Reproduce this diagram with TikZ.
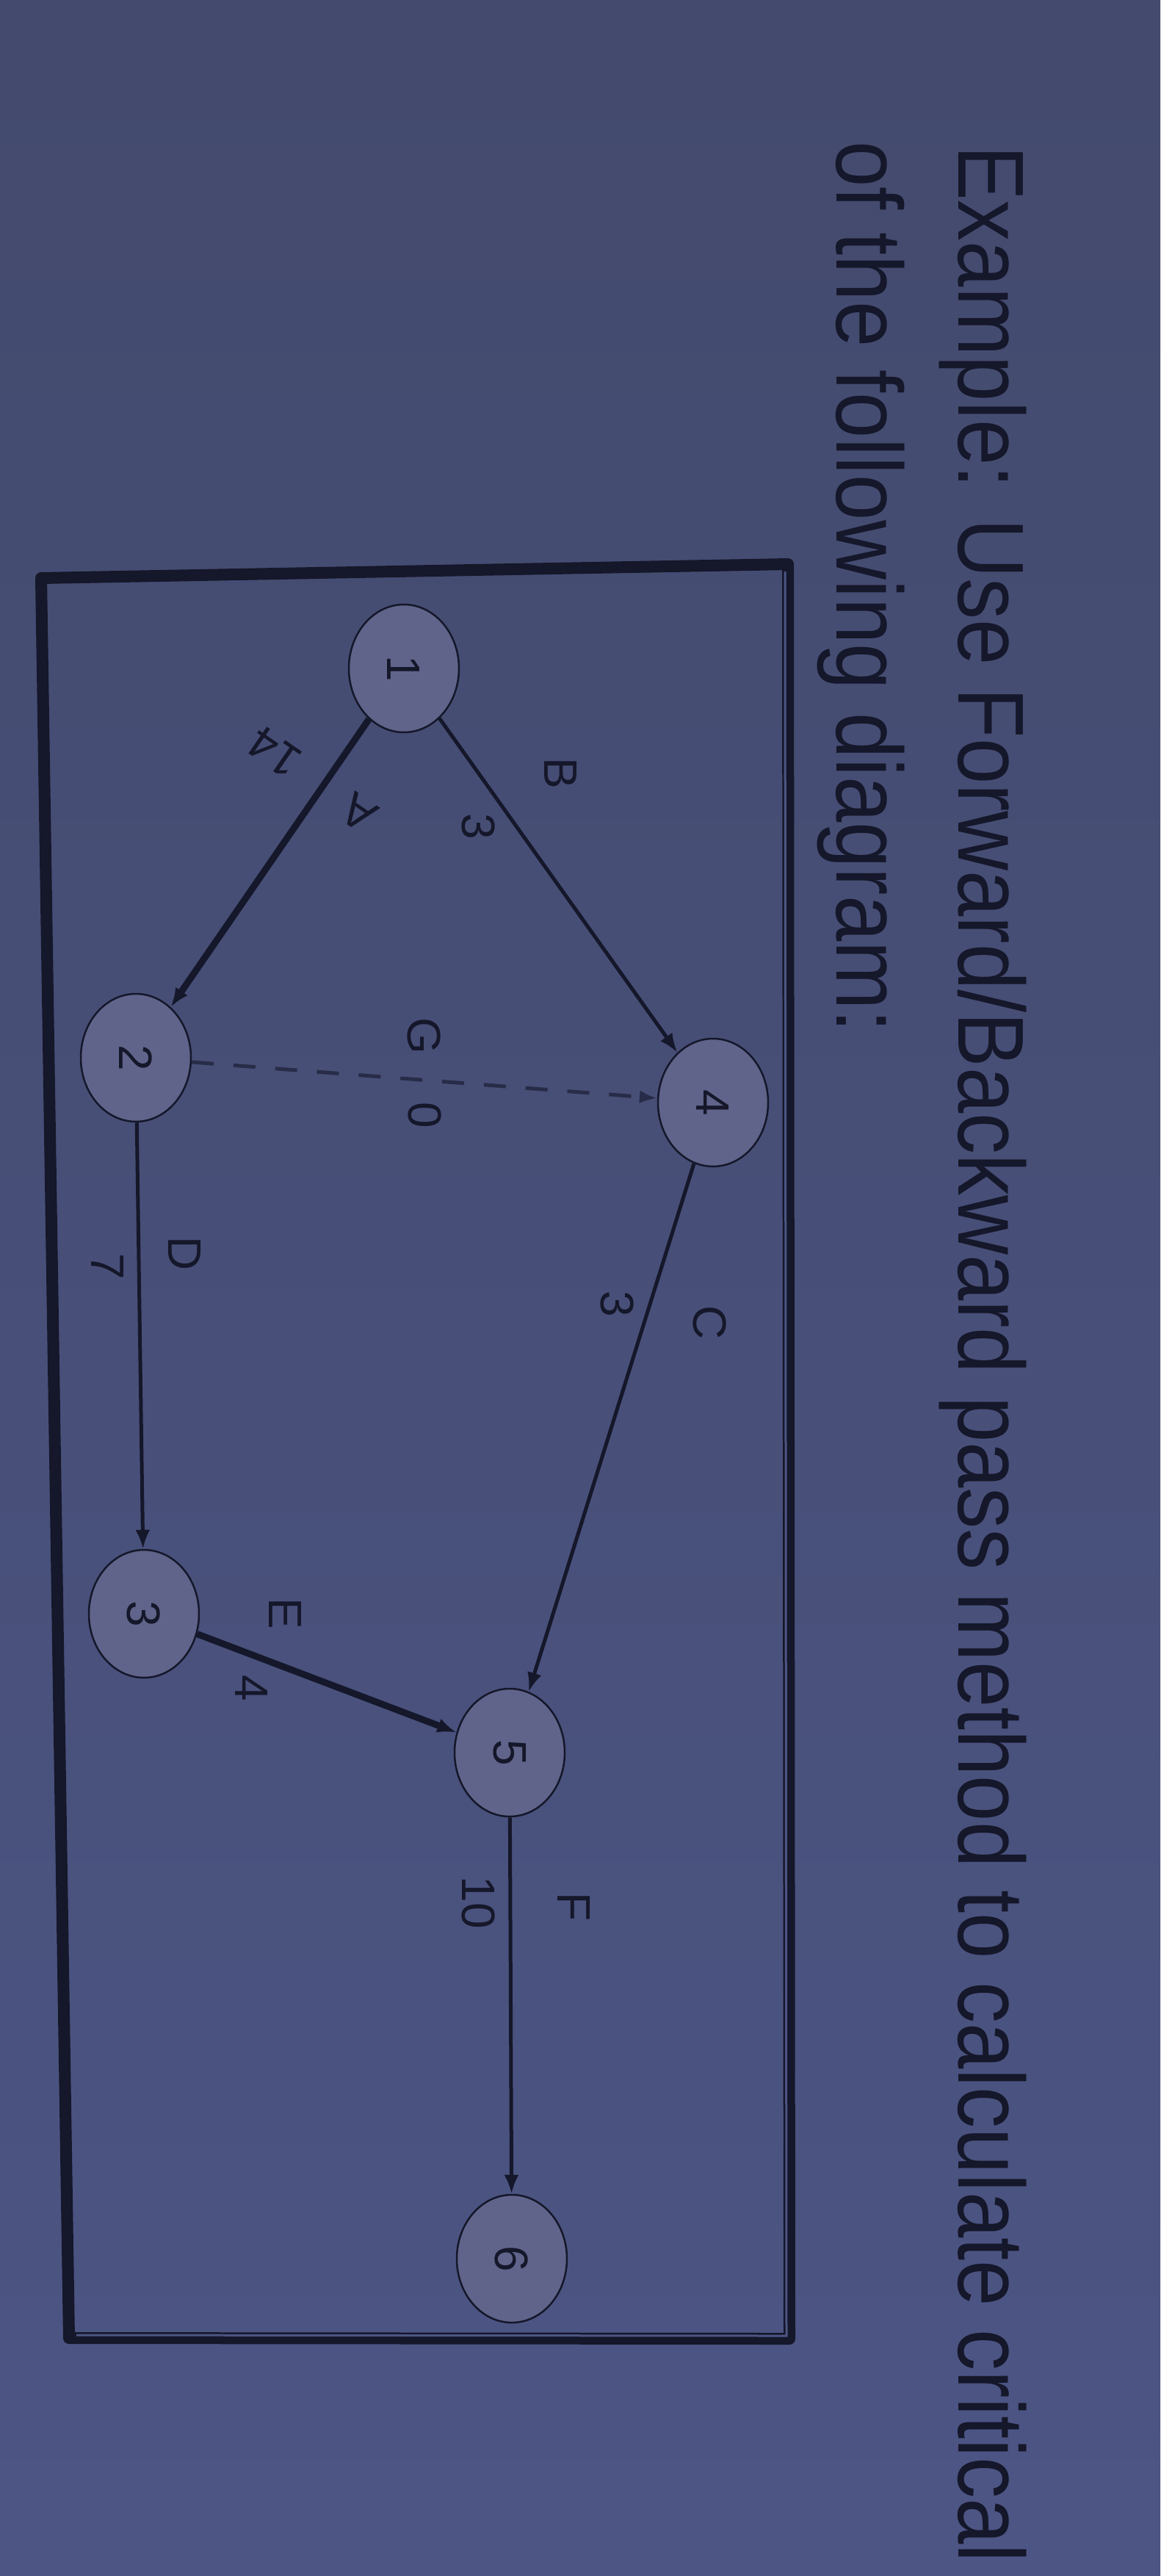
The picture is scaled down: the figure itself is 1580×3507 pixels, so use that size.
\documentclass[tikz,border=0pt]{standalone}
\usepackage{fontspec}
\setmainfont{Liberation Sans}
\usetikzlibrary{arrows.meta,calc,positioning,shapes.geometric}
\definecolor{bgtop}{HTML}{434A6D}
\definecolor{bgbot}{HTML}{4C5584}
\definecolor{ink}{HTML}{15172A}
\definecolor{nodefill}{HTML}{60648A}
\definecolor{dummygray}{HTML}{282C48}
\tikzset{
event/.style={ellipse,draw=ink,line width=2.5pt,fill=nodefill,minimum width=174pt,minimum height=150pt,inner sep=0pt,rotate=-90,text=ink,font=\fontsize{64}{64}\selectfont},
lbl/.style={rotate=-90,inner sep=0pt,text=ink,font=\fontsize{64}{64}\selectfont},
title/.style={rotate=-90,yscale=1.14,inner sep=0pt,text=ink,font=\fontsize{112}{130}\selectfont},
act/.style={draw=ink,line width=5pt,-{Latex[length=26pt,width=20pt]}},
crit/.style={act,line width=9pt},
dummy/.style={draw=dummygray,line width=5pt,dash pattern=on 30pt off 27pt,-{Latex[length=24pt,width=18pt]}}
}
\begin{document}
\begin{tikzpicture}[x=1pt,y=-1pt]
\shade[top color=bgtop,bottom color=bgbot] (0,0) rectangle (1580,3507);
\useasboundingbox (0,0) rectangle (1580,3507);
% title
\node[title,anchor=base west] (T1) at (1305,198) {Example: Use Forward/Backward pass method to calculate critical};
\node[title,anchor=base west] (T2) at (1139,192) {of the following diagram:};
% frame
\coordinate (TL) at (56,787);
\coordinate (TR) at (1073,768);
\coordinate (BR) at (1075,3184);
\coordinate (BL) at (94,3183);
\draw[ink,line width=16pt,line join=round] (TL) -- (TR) -- (BR) -- (BL) -- cycle;
\draw[bgbot,line width=3pt] ($(TR)+(-4,10)$) -- ($(BR)+(-4,-4)$) -- ($(BL)+(10,-4)$);
% events
\node[event] (n1) at (550,910) {1};
\node[event] (n2) at (185,1440) {2};
\node[event] (n4) at (971,1501) {4};
\node[event] (n3) at (196,2197) {3};
\node[event] (n5) at (694,2386) {5};
\node[event] (n6) at (697,3075) {6};
% activities
\path
(n1) edge[crit] (n2)
(n1) edge[act] (n4)
(n2) edge[dummy] (n4)
(n2) edge[act] (n3)
(n4) edge[act] (n5)
(n3) edge[crit] (n5)
(n5) edge[act] (n6);
% activity names and durations
\node[lbl,rotate=-124.6] (A) at (488,1106) {A};
\node[lbl,rotate=-124.6] (tA) at (374,1024) {14};
\node[lbl] (B) at (764,1053) {B};
\node[lbl] (tB) at (652,1125) {3};
\node[lbl] (G) at (578,1410) {G};
\node[lbl] (tG) at (579,1518) {0};
\node[lbl] (D) at (252,1707) {D};
\node[lbl] (tD) at (147,1724) {7};
\node[lbl] (C) at (967,1801) {C};
\node[lbl] (tC) at (841,1775) {3};
\node[lbl] (E) at (389,2197) {E};
\node[lbl] (tE) at (343,2298) {4};
\node[lbl] (F) at (782,2596) {F};
\node[lbl] (tF) at (652,2590) {10};
\end{tikzpicture}
\end{document}
